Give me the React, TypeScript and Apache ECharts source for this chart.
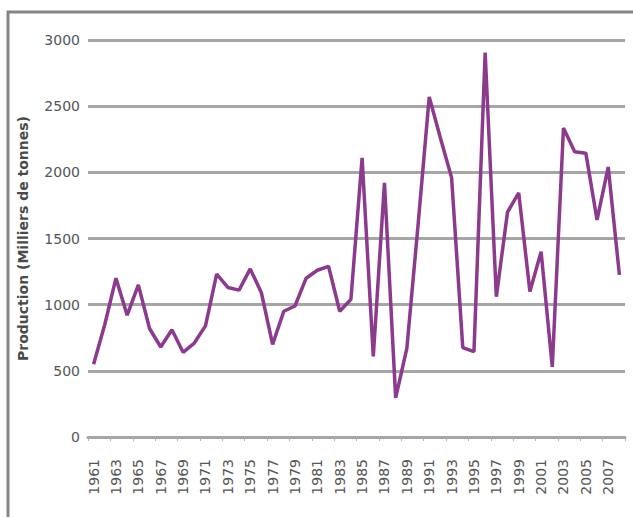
import React, { useEffect, useRef } from "react";
import * as echarts from "echarts";

const years: string[] = [];
for (let y = 1961; y <= 2008; y++) years.push(String(y));

const production = [
  550, 850, 1200, 920, 1150, 820, 680, 810, 640, 710,
  840, 1230, 1130, 1110, 1270, 1090, 700, 950, 990, 1200,
  1260, 1290, 950, 1040, 2110, 610, 1920, 295, 670, 1600,
  2570, 2260, 1960, 675, 645, 2905, 1060, 1700, 1845, 1100,
  1400, 530, 2335, 2155, 2145, 1640, 2040, 1225,
];

const yTicks = { min: 0, max: 3000, interval: 500 };
const yTitle = "Production (Milliers de tonnes)";

export default function App() {
  const ref = useRef<HTMLDivElement>(null);
  useEffect(() => {
    if (!ref.current) return;
    const chart = echarts.init(ref.current, null, { renderer: "svg" });
    chart.setOption({
      animation: false,
      backgroundColor: "#ffffff",
      graphic: [
        {
          type: "rect",
          shape: { x: 8, y: 12, width: 700, height: 600 },
          style: { fill: "none", stroke: "#858585", lineWidth: 3 },
          silent: true,
          z: -1,
        },
      ],
      grid: { left: 88, right: 8, top: 40, bottom: 80, containLabel: false },
      xAxis: {
        type: "category",
        data: years,
        boundaryGap: true,
        axisLine: { show: true, lineStyle: { color: "#a6a6a6", width: 3 } },
        axisTick: { show: true, length: 4, lineStyle: { color: "#b0b0b0", width: 1 } },
        axisLabel: {
          rotate: 90,
          interval: 1,
          margin: 22,
          color: "#555555",
          fontSize: 14,
          fontFamily: "DejaVu Sans",
        },
        splitLine: { show: false },
      },
      yAxis: {
        type: "value",
        min: yTicks.min,
        max: yTicks.max,
        interval: yTicks.interval,
        name: yTitle,
        nameLocation: "middle",
        nameGap: 58,
        nameRotate: 90,
        nameTextStyle: {
          color: "#4a4a4a",
          fontSize: 14,
          fontWeight: "bold",
          fontFamily: "DejaVu Sans",
        },
        axisLine: { show: false },
        axisTick: { show: false },
        axisLabel: {
          margin: 8,
          color: "#555555",
          fontSize: 14,
          fontFamily: "DejaVu Sans",
          formatter: (v: number) => String(v),
        },
        splitLine: { show: true, lineStyle: { color: "#a6a6a6", width: 3 } },
      },
      series: [
        {
          type: "line",
          data: production,
          showSymbol: false,
          symbol: "none",
          lineStyle: { color: "#8c3a8e", width: 3.5 },
          itemStyle: { color: "#8c3a8e" },
        },
      ],
    });
    return () => chart.dispose();
  }, []);
  return (
    <div
      ref={ref}
      style={{ position: "absolute", left: 0, top: 0, width: 633, height: 517 }}
    />
  );
}
